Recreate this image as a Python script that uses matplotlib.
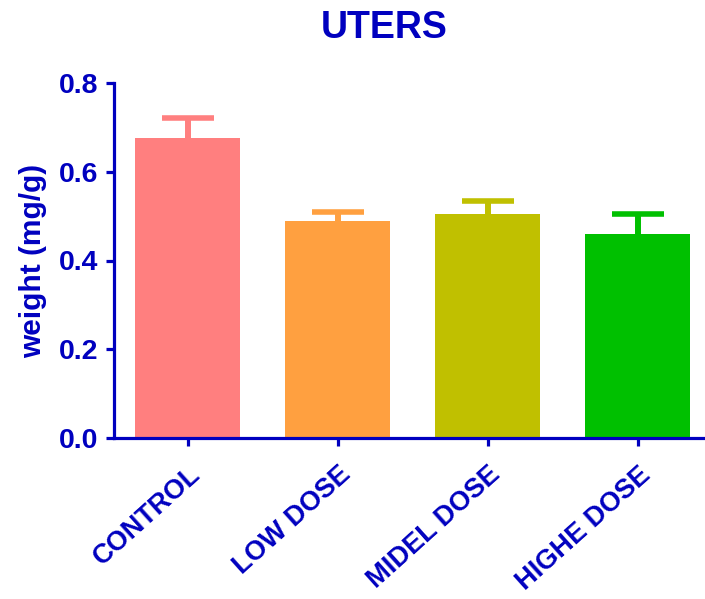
import numpy as np
import matplotlib.pyplot as plt

plt.rcParams['font.family'] = ['Liberation Sans', 'DejaVu Sans']
plt.rcParams['font.weight'] = 'bold'

groups = ["CONTROL", "LOW DOSE", "MIDEL DOSE", "HIGHE DOSE"]
means = [0.675, 0.489, 0.505, 0.459]
sem = [0.046, 0.020, 0.030, 0.045]
colors = ["#FF7F7F", "#FFA040", "#C0C000", "#00C000"]
blue = "#0000BF"

fig = plt.figure(figsize=(7.05, 5.99), dpi=100)
ax = fig.add_axes([114/705, 161/599, 591/705, 355/599])

x = np.arange(len(groups))
# upper error only; errorbars sit behind the bars so only the top half shows
for xi, m, e, c in zip(x, means, sem, colors):
    eb = ax.errorbar(xi, m, yerr=[[0], [e]], fmt='none', ecolor=c,
                     elinewidth=4.3, capsize=19, capthick=4, zorder=1)
    # drop the zero-length lower cap
    for cap in eb[1]:
        if np.isclose(cap.get_ydata()[0], m):
            cap.set_visible(False)
ax.bar(x, means, width=0.7, color=colors, zorder=2)

ax.set_xlim(-0.493, 3.447)
ax.set_ylim(0, 0.8)
ax.set_yticks([0.0, 0.2, 0.4, 0.6, 0.8])
ax.set_yticklabels(["0.0", "0.2", "0.4", "0.6", "0.8"])
ax.set_xticks(x)
ax.set_xticklabels(groups, rotation=42, ha='right', va='top', rotation_mode='anchor')

for side in ['top', 'right']:
    ax.spines[side].set_visible(False)
for side in ['left', 'bottom']:
    ax.spines[side].set_color(blue)
    ax.spines[side].set_linewidth(2.3)

ax.tick_params(axis='y', colors=blue, length=6, width=2.3, labelsize=20.5, pad=5)
ax.tick_params(axis='x', colors=blue, length=6, width=2.3, labelsize=19.5, pad=11)
for lbl in ax.get_xticklabels() + ax.get_yticklabels():
    lbl.set_fontweight('bold')
    lbl.set_color(blue)

ax.set_ylabel("weight (mg/g)", fontsize=21.5, fontweight='bold', color=blue, labelpad=9)
fig.text(384/705, 1 - 28/599, "UTERS", fontsize=27, fontweight='bold', color=blue,
         ha='center', va='center')

fig.savefig("out.png", dpi=100)
